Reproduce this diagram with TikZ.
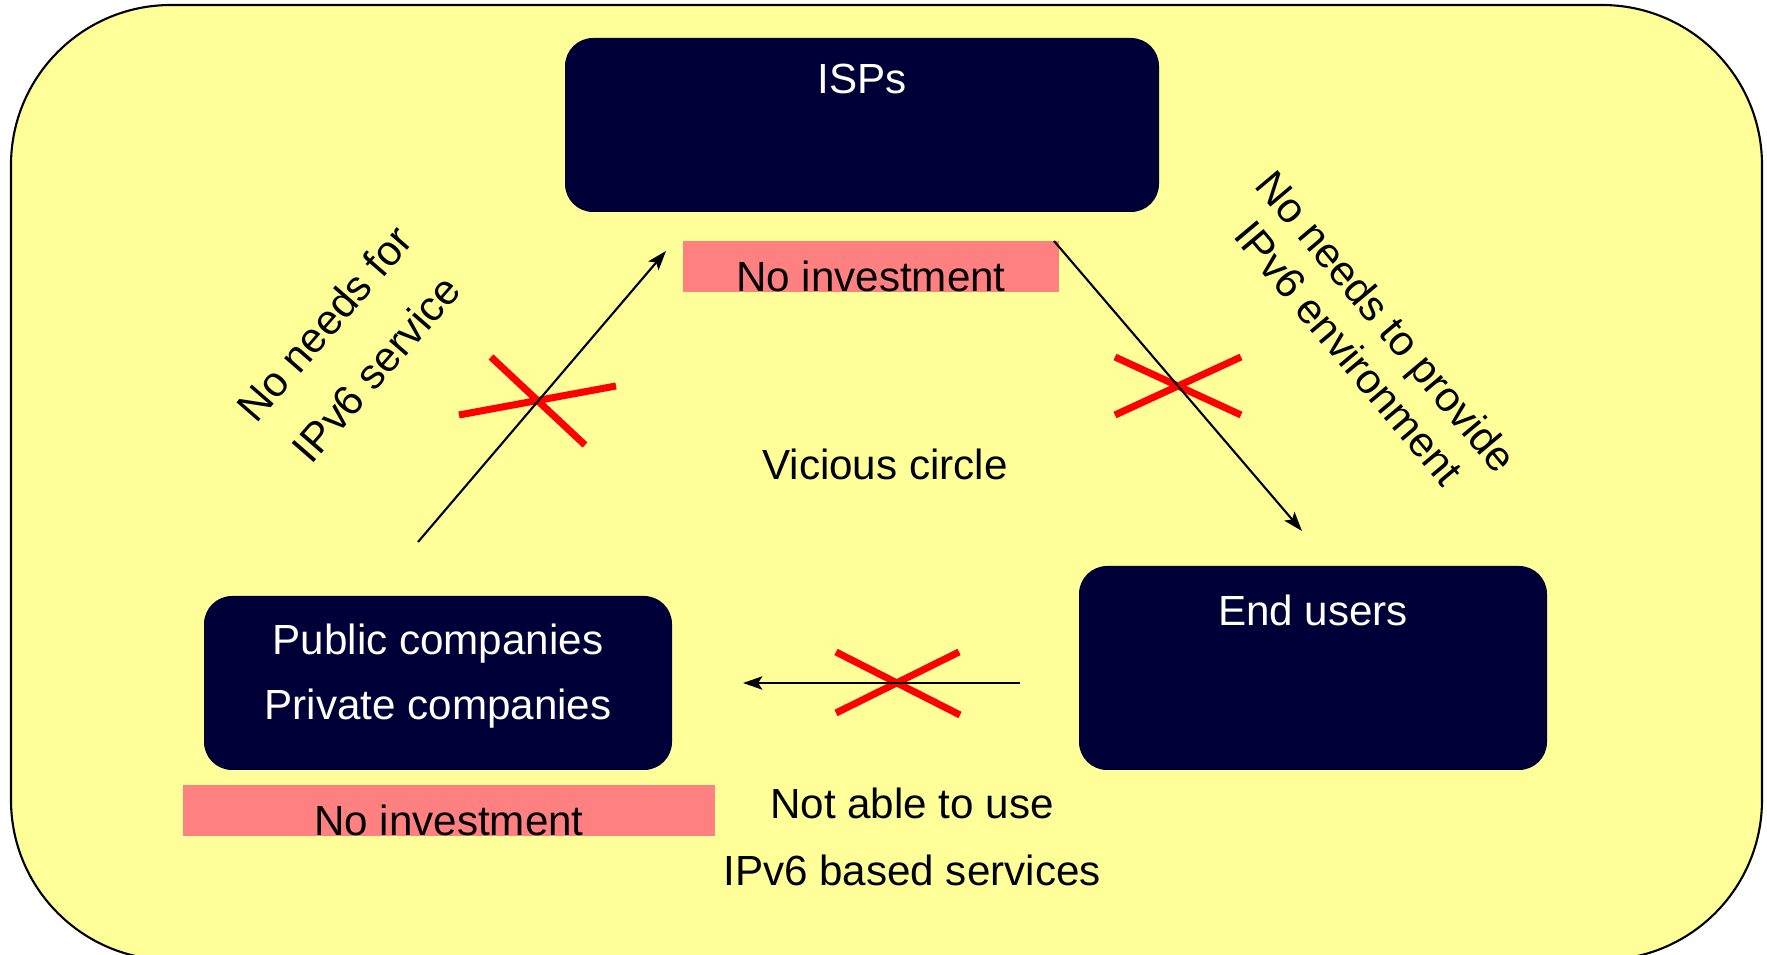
\documentclass[tikz,border=0pt]{standalone}
\usepackage{fontspec}
\setmainfont{Liberation Sans}
\usetikzlibrary{arrows,arrows.meta,positioning}

\definecolor{bgYellow}{RGB}{255,255,153}
\definecolor{boxNavy}{RGB}{0,0,56}
\definecolor{notePink}{RGB}{255,128,128}

\begin{document}
\begin{tikzpicture}[x=0.1mm, y=-0.1mm, font=\fontsize{12}{14}\selectfont, line width=0.6pt]
  \tikzstyle{actor} = [fill=boxNavy, rectangle, rounded corners=2.8mm, inner sep=0pt, minimum width=46.8mm, minimum height=17.4mm]
  \tikzstyle{actorName} = [text=white, inner sep=0pt, align=center, font={\fontsize{12}{18.5}\selectfont}]
  \tikzstyle{note} = [fill=notePink, rectangle, inner sep=0pt, text height=5.1mm, text depth=0pt, anchor=south]
  \tikzstyle{caption} = [inner sep=0pt, align=center, font={\fontsize{12}{19}\selectfont}]
  \tikzstyle{flow} = [black, line width=0.6pt, -{Stealth[length=5.5pt,width=3.8pt,inset=1.2pt]}];
  \tikzstyle{cut} = [red, line width=2pt];

  \useasboundingbox (0,0) rectangle (1767,955);
  \begin{scope}
    \clip (0,0) rectangle (1767,955);
    \draw[fill=bgYellow, rounded corners=16mm] (11,5) rectangle (1762,960);
  \end{scope}

  % the three parties
  \node[actor, minimum width=59.4mm] (isp) at (862,125) {};
  \node[actorName, below=2.6mm of isp.north] (ispName) {ISPs};
  \node[actor] (comp) at (438,683) {};
  \node[actorName, below=2.8mm of comp.north] (compName) {Public companies\\Private companies};
  \node[actor, minimum height=20.4mm] (user) at (1313,668) {};
  \node[actorName, below=2.9mm of user.north] (userName) {End users};

  \node[note, minimum width=37.6mm] (ispNote) at (871,293) {No investment};
  \node[note, minimum width=53.2mm] (compNote) at (449,837) {No investment};

  \node[caption, anchor=base] (vicious) at (885,480) {Vicious circle};
  \node[caption, anchor=north] (notAble) at (912,787) {Not able to use\\IPv6 based services};
  \node[caption, rotate=49, font={\fontsize{12}{19.5}\selectfont}] (needSvc) at (350,346) {No needs for\\IPv6 service};
  \node[caption, rotate=-50, font={\fontsize{12}{14}\selectfont}] (needEnv) at (1368,337) {No needs to provide\\IPv6 environment};

  % crossed out links
  \draw[cut] (459,415) -- (616,386) (491,357) -- (585,445);
  \draw[cut] (1115,357) -- (1241,415) (1115,415) -- (1241,357);
  \draw[cut] (836,652) -- (960,715) (836,713) -- (959,652);

  \coordinate (upFrom) at (418,542);
  \coordinate (upTo) at (666,251);
  \coordinate (downFrom) at (1054,241);
  \coordinate (downTo) at (1302,531);
  \coordinate (backFrom) at (1020,683);
  \coordinate (backTo) at (743,683);

  \path[flow]
  (upFrom) edge (upTo)
  (downFrom) edge (downTo)
  (backFrom) edge (backTo);
\end{tikzpicture}
\end{document}
